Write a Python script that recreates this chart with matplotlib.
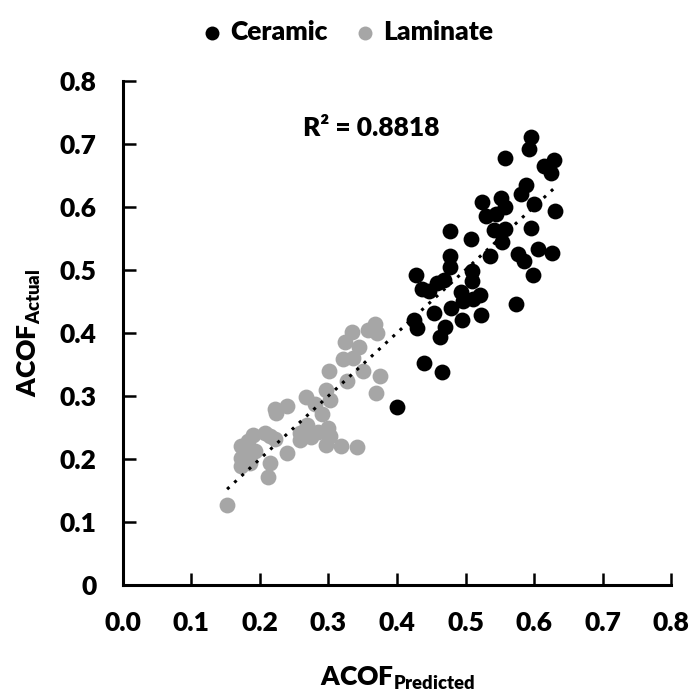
import numpy as np
import matplotlib
matplotlib.use("Agg")
import matplotlib.pyplot as plt

plt.rcParams['font.family'] = ['Lato', 'DejaVu Sans']
plt.rcParams['font.weight'] = 'heavy'
plt.rcParams['mathtext.fontset'] = 'custom'
plt.rcParams['mathtext.rm'] = 'Lato:heavy'
plt.rcParams['mathtext.bf'] = 'Lato:heavy'
plt.rcParams['mathtext.it'] = 'Lato:heavy'

# Predicted vs. actual ACOF
ceramic_pred = [0.596, 0.592, 0.557, 0.629, 0.615, 0.625, 0.589, 0.581, 0.600, 0.630,
                0.524, 0.552, 0.557, 0.530, 0.544, 0.542, 0.558, 0.596, 0.477, 0.508,
                0.553, 0.606, 0.626, 0.577, 0.586, 0.478, 0.536, 0.599, 0.428, 0.478,
                0.510, 0.510, 0.469, 0.459, 0.436, 0.447, 0.494, 0.521, 0.511, 0.496,
                0.479, 0.454, 0.522, 0.495, 0.425, 0.429, 0.470, 0.463, 0.574, 0.440,
                0.466, 0.400]
ceramic_act = [0.711, 0.691, 0.677, 0.674, 0.664, 0.653, 0.634, 0.621, 0.604, 0.594,
               0.607, 0.614, 0.600, 0.585, 0.588, 0.563, 0.565, 0.567, 0.561, 0.549,
               0.544, 0.533, 0.526, 0.525, 0.514, 0.522, 0.522, 0.491, 0.491, 0.504,
               0.498, 0.483, 0.484, 0.479, 0.470, 0.467, 0.464, 0.460, 0.453, 0.451,
               0.440, 0.432, 0.429, 0.421, 0.421, 0.408, 0.410, 0.394, 0.446, 0.352,
               0.338, 0.283]

laminate_pred = [0.368, 0.358, 0.371, 0.335, 0.324, 0.344, 0.321, 0.336, 0.350, 0.301,
                 0.375, 0.327, 0.296, 0.369, 0.267, 0.302, 0.280, 0.240, 0.222, 0.223,
                 0.290, 0.268, 0.300, 0.302, 0.275, 0.258, 0.285, 0.297, 0.318, 0.342,
                 0.239, 0.215, 0.207, 0.190, 0.173, 0.183, 0.193, 0.173, 0.181, 0.185,
                 0.173, 0.215, 0.212, 0.152, 0.222, 0.258]
laminate_act = [0.414, 0.405, 0.400, 0.402, 0.385, 0.377, 0.358, 0.360, 0.340, 0.340,
                0.332, 0.323, 0.310, 0.305, 0.298, 0.294, 0.287, 0.284, 0.279, 0.273,
                0.271, 0.254, 0.249, 0.237, 0.235, 0.241, 0.243, 0.222, 0.221, 0.219,
                0.210, 0.237, 0.241, 0.238, 0.220, 0.228, 0.212, 0.201, 0.209, 0.193,
                0.188, 0.193, 0.172, 0.127, 0.231, 0.230]

# Linear trendline coefficients (all samples pooled)
trend_slope = 1.0
trend_intercept = 0.0

x_ticks = [0.0, 0.1, 0.2, 0.3, 0.4, 0.5, 0.6, 0.7, 0.8]
x_tick_labels = ['0.0', '0.1', '0.2', '0.3', '0.4', '0.5', '0.6', '0.7', '0.8']
y_ticks = [0.0, 0.1, 0.2, 0.3, 0.4, 0.5, 0.6, 0.7, 0.8]
y_tick_labels = ['0', '0.1', '0.2', '0.3', '0.4', '0.5', '0.6', '0.7', '0.8']
r_squared_text = 'R² = 0.8818'

FS = 19

fig = plt.figure(figsize=(6.94, 6.98), dpi=100)
ax = fig.add_axes([0.1772, 0.1619, 0.7897, 0.7225])

ax.scatter(ceramic_pred, ceramic_act, s=130, color='black', linewidths=0,
           label='Ceramic', zorder=3)
ax.scatter(laminate_pred, laminate_act, s=130, color='#A6A6A6', linewidths=0,
           label='Laminate', zorder=3)

all_x = np.array(ceramic_pred + laminate_pred)
xs = np.array([all_x.min(), all_x.max()])
ax.plot(xs, trend_slope * xs + trend_intercept, color='black',
        linestyle=(0, (1, 2.2)), linewidth=2.2, zorder=4)

ax.text(0.263, 0.725, r_squared_text, fontsize=FS, fontweight='heavy',
        va='center', ha='left')

ax.set_xlim(0, 0.8)
ax.set_ylim(0, 0.8)
ax.set_xticks(x_ticks)
ax.set_xticklabels(x_tick_labels)
ax.set_yticks(y_ticks)
ax.set_yticklabels(y_tick_labels)
ax.tick_params(axis='both', direction='in', length=9, width=1.8,
               labelsize=FS, pad=19)
for lab in ax.get_xticklabels() + ax.get_yticklabels():
    lab.set_fontweight('heavy')

for side in ['top', 'right']:
    ax.spines[side].set_visible(False)
for side in ['left', 'bottom']:
    ax.spines[side].set_linewidth(2.2)

ax.set_xlabel(r'ACOF$_{\mathrm{Predicted}}$', fontsize=FS, fontweight='heavy',
              labelpad=21)
ax.set_ylabel(r'ACOF$_{\mathrm{Actual}}$', fontsize=FS, fontweight='heavy',
              labelpad=12)

fig.legend(loc='upper center', bbox_to_anchor=(0.5, 1.005), ncol=2,
           frameon=False, markerscale=0.88, handlelength=0.8, handletextpad=0.3,
           columnspacing=1.0, prop={'weight': 'heavy', 'size': FS})

fig.savefig('out.png', dpi=100)
